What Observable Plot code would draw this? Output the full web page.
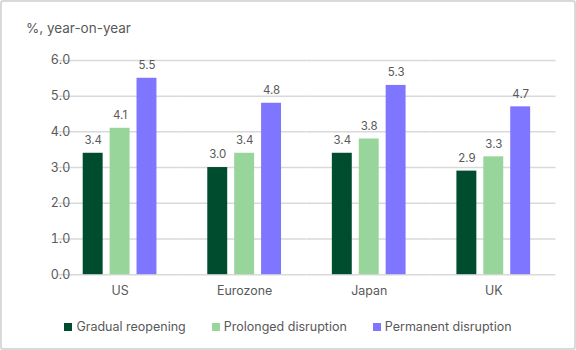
<!DOCTYPE html>
<html>
<head>
<meta charset="utf-8">
<script src="https://cdn.jsdelivr.net/npm/d3@7"></script>
<script src="https://cdn.jsdelivr.net/npm/@observablehq/plot@0.6"></script>
<style>
  html, body { margin: 0; padding: 0; background: #fff; }
  #wrap { position: relative; width: 576px; height: 350px; box-sizing: border-box;
          border: 2px solid #d9d9d9; border-radius: 3px; font-family: Inter, "Noto Sans", sans-serif; color: #595959; overflow: hidden; }
  #title { position: absolute; left: 24px; top: 18px; font-size: 13.5px; }
  #chart { position: absolute; left: -2px; top: 36px; }
  #legend { position: absolute; left: 0; right: 0; top: 317px; display: flex; justify-content: center; gap: 26px; font-size: 12.5px; }
  #legend .item { display: flex; align-items: center; }
  #legend .sw { width: 8px; height: 8px; margin-right: 4px; }
</style>
</head>
<body>
<div id="wrap">
  <div id="title">%, year-on-year</div>
  <div id="chart"></div>
  <div id="legend"></div>
</div>
<script>
const countries = ["US", "Eurozone", "Japan", "UK"];
const scenarios = ["Gradual reopening", "Prolonged disruption", "Permanent disruption"];
const colors = ["#004c2f", "#98d59a", "#7f76ff"];
const gradual = [3.4, 3.0, 3.4, 2.9];
const prolonged = [4.1, 3.4, 3.8, 3.3];
const permanent = [5.5, 4.8, 5.3, 4.7];
const yTicks = [0, 1, 2, 3, 4, 5, 6];

const series = [gradual, prolonged, permanent];
const data = [];
countries.forEach((c, i) => {
  scenarios.forEach((s, j) => data.push({country: c, scenario: s, value: series[j][i]}));
});

const W = 576, ML = 58, MR = 18;
const fxPadInner = 0.39, fxPadOuter = 0.195;
const step = (W - ML - MR) / (countries.length - fxPadInner + 2 * fxPadOuter);
const halfGap = step * fxPadInner / 2;

const plot = Plot.plot({
  width: W,
  height: 270,
  marginTop: 22,
  marginBottom: 33,
  marginLeft: ML,
  marginRight: MR,
  style: {fontFamily: "Inter, 'Noto Sans', sans-serif", fontSize: "12px", color: "#595959", background: "transparent"},
  fx: {domain: countries, paddingInner: fxPadInner, paddingOuter: fxPadOuter, label: null},
  x: {domain: scenarios, paddingInner: 0.25, paddingOuter: 0, axis: null},
  y: {domain: [0, 6], label: null},
  color: {domain: scenarios, range: colors},
  marks: [
    Plot.ruleY(yTicks, {stroke: "#d9d9d9", strokeWidth: 1.5, insetLeft: -halfGap, insetRight: -halfGap}),
    Plot.axisY(yTicks, {tickSize: 0, tickPadding: 12, tickFormat: d => d.toFixed(1), label: null, fontSize: 12.5}),
    Plot.axisFx({anchor: "bottom", tickSize: 0, tickPadding: 12, label: null, fontSize: 12.5}),
    Plot.barY(data, {fx: "country", x: "scenario", y: "value", fill: "scenario"}),
    Plot.text(data, {fx: "country", x: "scenario", y: "value", text: d => d.value.toFixed(1), dy: -13, fill: "#595959", fontSize: 11.5})
  ]
});
document.getElementById("chart").appendChild(plot);

const legend = document.getElementById("legend");
scenarios.forEach((s, i) => {
  const it = document.createElement("div");
  it.className = "item";
  const sw = document.createElement("span");
  sw.className = "sw";
  sw.style.background = colors[i];
  const t = document.createElement("span");
  t.textContent = s;
  it.appendChild(sw); it.appendChild(t);
  legend.appendChild(it);
});
</script>
</body>
</html>
